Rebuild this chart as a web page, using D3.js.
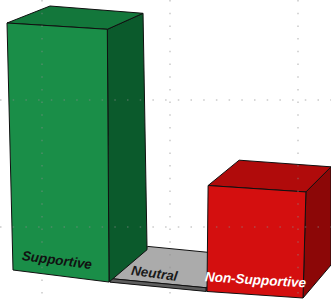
<!DOCTYPE html>
<html>
<head>
<meta charset="utf-8">
<script src="https://cdn.jsdelivr.net/npm/d3@7"></script>
<style>
  html, body { margin: 0; padding: 0; background: #fff; }
  svg { display: block; }
</style>
</head>
<body>
<svg id="chart"></svg>
<script>
let width = 331,
    height = 300;

// data
const categories = ["Supportive", "Neutral", "Non-Supportive"];
const values = [70, 1, 29];
const yMax = 70;
const gridCols = [0, 1, 2];
const gridRows = [0, 1];

// colours per bar
const faceColors = {
    "Supportive": { front: "#1a8e48", top: "#13773b", side: "#0b5a2c", label: "#111111" },
    "Neutral": { front: "#5e5e5e", top: "#ababab", side: "#8a8a8a", label: "#1a1a1a" },
    "Non-Supportive": { front: "#d40f0f", top: "#b00b0b", side: "#8c0707", label: "#ffffff" }
};

// label placement (fraction along band, height, depth)
const labelPos = {
    "Supportive": { du: 0.09, v: 0.045, w: 0, anchor: "start" },
    "Neutral": { du: 0.15, v: 0, w: 0.17, anchor: "start", top: true },
    "Non-Supportive": { du: 0.5, v: 0.042, w: 0, anchor: "middle" }
};

let svg = d3.select("#chart")
    .attr("width", width)
    .attr("height", height)
    .attr("viewBox", "0 0 " + width + " " + height);

svg.append("rect").attr("width", width).attr("height", height).attr("fill", "#fff");

let x = d3.scaleBand().domain(categories).range([0, 1]).paddingInner(0.01);
let y = d3.scaleLinear().domain([0, yMax]).range([0, 1]);

// box corners of the view: front plane (w=0) and back plane (w=1)
const F = { b0: [13, 270], b1: [303, 298], t0: [7, 23], t1: [310, 42] };
const B = { b0: [56, 238], b1: [331, 265], t0: [50, 6], t1: [331, 28] };
const bow = 12.5;

function bilerp(P, u, v) {
    let bx = P.b0[0] + (P.b1[0] - P.b0[0]) * u,
        by = P.b0[1] + (P.b1[1] - P.b0[1]) * u,
        tx = P.t0[0] + (P.t1[0] - P.t0[0]) * u,
        ty = P.t0[1] + (P.t1[1] - P.t0[1]) * u;
    return [bx + (tx - bx) * v, by + (ty - by) * v];
}

function project(u, v, w) {
    let f = bilerp(F, u, v),
        b = bilerp(B, u, v);
    let px = f[0] + (b[0] - f[0]) * w,
        py = f[1] + (b[1] - f[1]) * w;
    py += bow * u * (1 - u) * (1 - v);
    return [px, py];
}

let bars = categories.map((c, i) => ({ cat: c, value: values[i] }));
// paint low bars first so taller neighbours cover them
let drawOrder = bars.slice().sort((a, b) => a.value - b.value);

let line = d3.line();

let gBars = svg.append("g").attr("id", "bars");

drawOrder.forEach((d) => {
    let u0 = x(d.cat),
        u1 = u0 + x.bandwidth(),
        v = y(d.value);
    let faces = [
        { key: "side", pts: [[u1, 0, 0], [u1, 0, 1], [u1, v, 1], [u1, v, 0]] },
        { key: "top", pts: [[u0, v, 0], [u1, v, 0], [u1, v, 1], [u0, v, 1]] },
        { key: "front", pts: [[u0, 0, 0], [u1, 0, 0], [u1, v, 0], [u0, v, 0]] }
    ];
    let g = gBars.append("g").attr("class", "bar");
    g.selectAll("path")
        .data(faces)
        .enter()
        .append("path")
        .attr("d", (f) => line(f.pts.map((p) => project(p[0], p[1], p[2]))) + "Z")
        .attr("fill", (f) => faceColors[d.cat][f.key])
        .attr("stroke", "#101010")
        .attr("stroke-width", 1)
        .attr("stroke-linejoin", "round");
});

// labels
bars.forEach((d) => {
    let lp = labelPos[d.cat];
    let u0 = x(d.cat),
        uS = u0 + x.bandwidth() * lp.du,
        v = lp.top ? y(d.value) : lp.v;
    let p = project(uS, v, lp.w),
        q = project(uS + 0.1, v, lp.w);
    let angle = Math.atan2(q[1] - p[1], q[0] - p[0]) * 180 / Math.PI;
    if (lp.top) angle += 2;
    svg.append("text")
        .attr("transform", `translate(${p[0]},${p[1]}) rotate(${angle})`)
        .attr("text-anchor", lp.anchor)
        .attr("font-family", "Liberation Sans, Arial, sans-serif")
        .attr("font-size", "13.5px")
        .attr("font-weight", "bold")
        .attr("font-style", "italic")
        .attr("fill", faceColors[d.cat].label)
        .text(d.cat);
});

// dotted grid overlay
let gx = d3.scaleLinear().domain([0, 2]).range([42, 298]);
let gy = d3.scaleLinear().domain([0, 1]).range([100, 227]);
let gGrid = svg.append("g").attr("id", "grid")
    .attr("stroke", "#8c8c8c")
    .attr("stroke-width", 1.5)
    .attr("stroke-dasharray", "1.5 11.2")
    .attr("opacity", 0.45);

gGrid.selectAll("line.v")
    .data(gridCols)
    .enter()
    .append("line")
    .attr("class", "v")
    .attr("x1", (d) => gx(d))
    .attr("x2", (d) => gx(d))
    .attr("y1", 0)
    .attr("y2", height);

gGrid.selectAll("line.h")
    .data(gridRows)
    .enter()
    .append("line")
    .attr("class", "h")
    .attr("x1", 0)
    .attr("x2", width)
    .attr("y1", (d) => gy(d))
    .attr("y2", (d) => gy(d));
</script>
</body>
</html>
